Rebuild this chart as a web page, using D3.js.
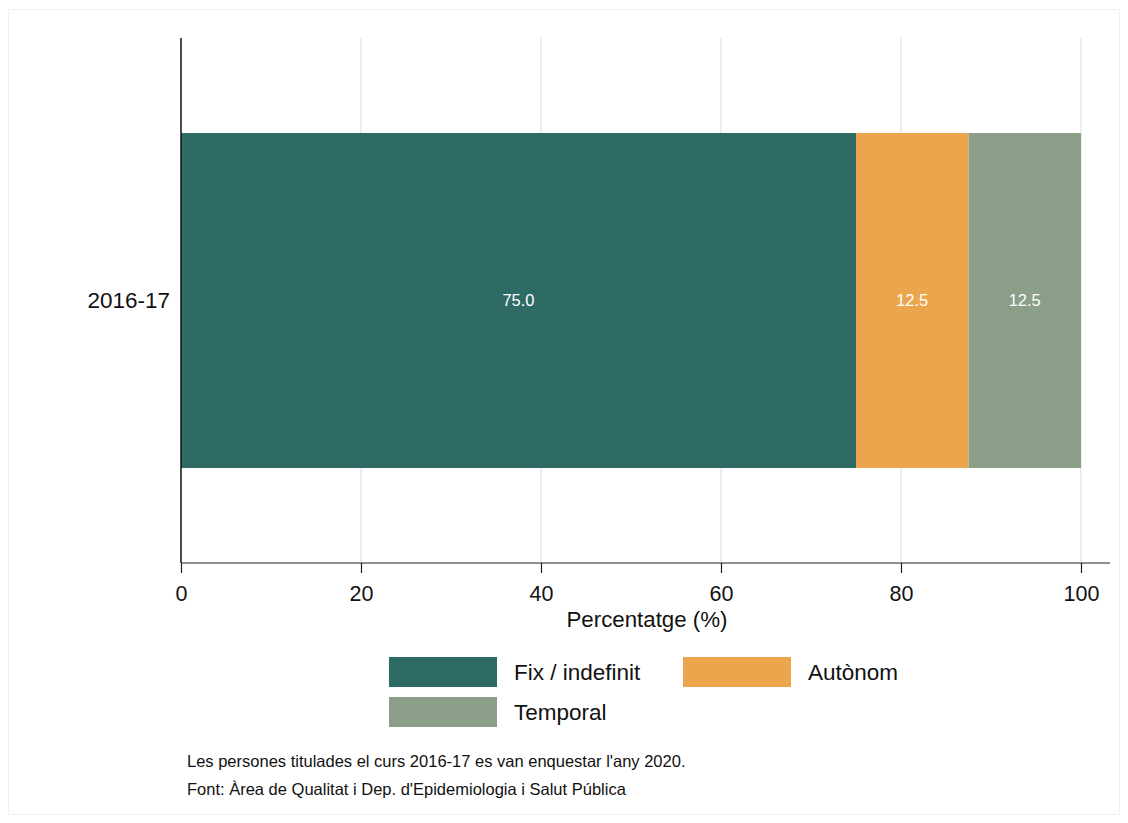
<!DOCTYPE html>
<html><head><meta charset="utf-8">
<script src="https://cdn.jsdelivr.net/npm/d3@7"></script>
<style>body{margin:0;background:#fff;font-family:"Liberation Sans",Arial,sans-serif;}</style>
</head><body>
<script>
const categories = ["2016-17"];
const seriesNames = ["Fix / indefinit", "Autònom", "Temporal"];
const fixValues = [75.0];
const autonomValues = [12.5];
const temporalValues = [12.5];
const xTicks = [0, 20, 40, 60, 80, 100];
const colors = ["#2e6b64", "#eba64d", "#8a9e88"];
const notes = ["Les persones titulades el curs 2016-17 es van enquestar l'any 2020.",
               "Font: Àrea de Qualitat i Dep. d'Epidemiologia i Salut Pública"];

const W = 1128, H = 823;
const svg = d3.select("body").append("svg").attr("width", W).attr("height", H);
svg.append("rect").attr("x", 8.5).attr("y", 9.5).attr("width", 1111).attr("height", 805)
  .attr("fill", "#fff").attr("stroke", "#eef1f1");

const x = d3.scaleLinear().domain([0, 100]).range([181, 1081]);
const yInner = d3.scaleBand().domain(categories).range([133, 468]);

// grid
svg.append("g").selectAll("line").data(xTicks.filter(d => d > 0)).join("line")
  .attr("x1", d => x(d)).attr("x2", d => x(d)).attr("y1", 38).attr("y2", 563)
  .attr("stroke", "#e8f0f2").attr("stroke-width", 2);

// stacked data
const rows = categories.map((c, i) => ({cat: c, "Fix / indefinit": fixValues[i], "Autònom": autonomValues[i], "Temporal": temporalValues[i]}));
const stack = d3.stack().keys(seriesNames)(rows);
stack.forEach((s, si) => {
  const g = svg.append("g");
  g.selectAll("rect").data(s).join("rect")
    .attr("x", d => x(d[0])).attr("width", d => x(d[1]) - x(d[0]))
    .attr("y", d => yInner(d.data.cat)).attr("height", yInner.bandwidth())
    .attr("fill", colors[si]);
  g.selectAll("text").data(s).join("text")
    .attr("x", d => (x(d[0]) + x(d[1])) / 2).attr("y", d => yInner(d.data.cat) + yInner.bandwidth() / 2)
    .attr("dy", "0.35em").attr("text-anchor", "middle").attr("fill", "#fff")
    .attr("font-size", 16.5).text(d => (d[1] - d[0]).toFixed(1));
});

// axes
const xAxis = svg.append("g").attr("transform", "translate(0,563)")
  .call(d3.axisBottom(x).tickValues(xTicks).tickSize(10).tickPadding(13).tickSizeOuter(0));
xAxis.select(".domain").remove();
xAxis.append("line").attr("x1", 181).attr("x2", 1110).attr("y1", 0).attr("y2", 0).attr("stroke", "#222").attr("stroke-width", 1.2);
xAxis.selectAll(".tick line").attr("stroke", "#222").attr("stroke-width", 1.2);
xAxis.selectAll(".tick text").attr("font-size", 21.5).attr("fill", "#111").attr("font-family", "Liberation Sans, Arial, sans-serif");

const yAxis = svg.append("g").attr("transform", "translate(181,0)")
  .call(d3.axisLeft(yInner).tickSize(0).tickPadding(11));
yAxis.select(".domain").remove();
yAxis.append("line").attr("x1", 0).attr("x2", 0).attr("y1", 38).attr("y2", 563).attr("stroke", "#111").attr("stroke-width", 1.5);
yAxis.selectAll(".tick text").attr("font-size", 22.5).attr("fill", "#111").attr("font-family", "Liberation Sans, Arial, sans-serif");

svg.append("text").attr("x", 647).attr("y", 627).attr("text-anchor", "middle")
  .attr("font-size", 22.3).attr("fill", "#111").text("Percentatge (%)");

// legend
const legPos = [[389, 657], [683, 657], [389, 697]];
seriesNames.forEach((n, i) => {
  const [lx, ly] = legPos[i];
  svg.append("rect").attr("x", lx).attr("y", ly).attr("width", 108).attr("height", 30).attr("fill", colors[i]);
  svg.append("text").attr("x", lx + 125).attr("y", ly + 15).attr("dy", "0.35em")
    .attr("font-size", 22.5).attr("fill", "#111").text(n);
});

notes.forEach((t, i) => {
  svg.append("text").attr("x", 187).attr("y", 767 + i * 28).attr("font-size", 16.5).attr("fill", "#111").text(t);
});
</script>
</body></html>
